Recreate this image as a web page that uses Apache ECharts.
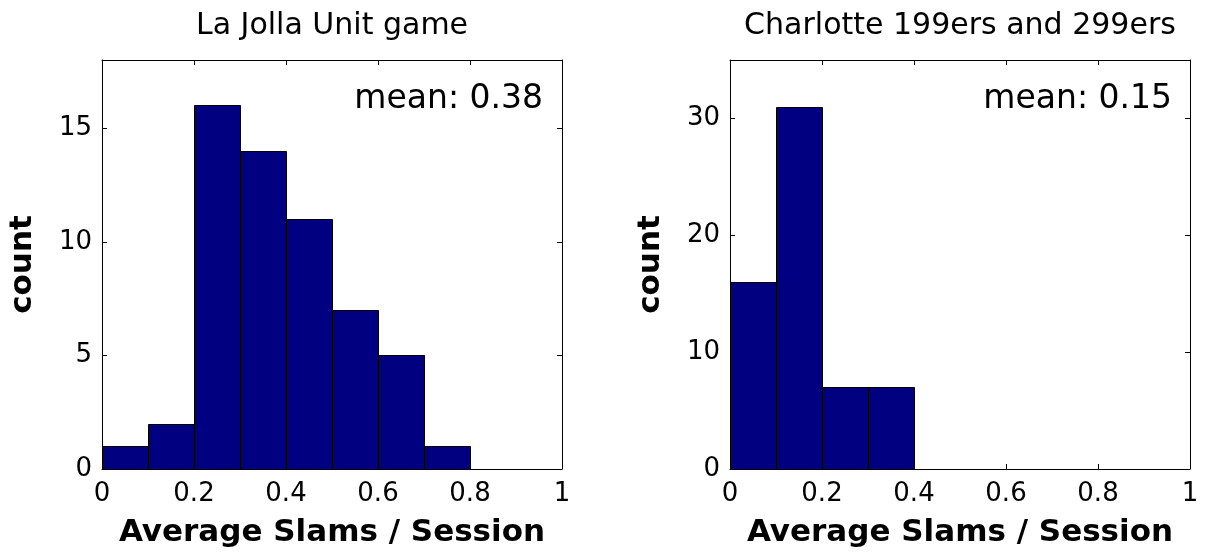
<!DOCTYPE html>
<html>
<head>
<meta charset="utf-8">
<script src="https://cdn.jsdelivr.net/npm/echarts@6/dist/echarts.min.js"></script>
<style>
html,body{margin:0;padding:0;background:#fff;}
#chart{width:1208px;height:554px;}
</style>
</head>
<body>
<div id="chart"></div>
<script>
const binEdges = [0, 0.1, 0.2, 0.3, 0.4, 0.5, 0.6, 0.7, 0.8, 0.9, 1.0];
const laJollaCounts = [1, 2, 16, 14, 11, 7, 5, 1, 0, 0];
const charlotteCounts = [16, 31, 7, 7, 0, 0, 0, 0, 0, 0];
const titles = ['La Jolla Unit game', 'Charlotte 199ers and 299ers'];
const meanLabels = ['mean: 0.38', 'mean: 0.15'];
const xTitle = 'Average Slams / Session';
const yTitle = 'count';
const yMaxes = [18, 35];
const yIntervals = [5, 10];

const FONT = 'DejaVu Sans';
const BAR = '#000080';

function toData(counts) {
  return counts.map((c, i) => [binEdges[i], binEdges[i + 1], c]);
}

function renderItem(params, api) {
  const x0 = api.value(0), x1 = api.value(1), y = api.value(2);
  if (!y) return null;
  const p0 = api.coord([x0, y]);
  const p1 = api.coord([x1, 0]);
  const l = Math.round(p0[0]) + 0.5, r = Math.round(p1[0]) + 0.5;
  const t = Math.round(p0[1]) + 0.5, b = Math.round(p1[1]) + 0.5;
  return {
    type: 'rect',
    shape: { x: l, y: t, width: r - l, height: b - t },
    style: { fill: BAR, stroke: '#000', lineWidth: 1 }
  };
}

const grids = [
  { left: 102, top: 60, width: 460, height: 409 },
  { left: 730, top: 60, width: 460, height: 409 }
];

const lineStyle = { color: '#000', width: 1 };
const xAxes = [], yAxes = [], series = [];
[0, 1].forEach(g => {
  xAxes.push({
    gridIndex: g, type: 'value', min: 0, max: 1, interval: 0.2, position: 'bottom',
    axisLine: { show: true, onZero: false, lineStyle },
    axisTick: { show: true, inside: true, length: 5, lineStyle },
    axisLabel: { show: true, color: '#000', fontFamily: FONT, fontSize: 26, margin: 12 },
    splitLine: { show: false },
    name: xTitle, nameLocation: 'middle', nameGap: 48,
    nameTextStyle: { color: '#000', fontFamily: FONT, fontSize: 31, fontWeight: 'bold' }
  });
  xAxes.push({
    gridIndex: g, type: 'value', min: 0, max: 1, interval: 0.2, position: 'top',
    axisLine: { show: true, onZero: false, lineStyle },
    axisTick: { show: true, inside: true, length: 5, lineStyle },
    axisLabel: { show: false }, splitLine: { show: false }
  });
  const iv = yIntervals[g];
  yAxes.push({
    gridIndex: g, type: 'value', min: 0, max: yMaxes[g], interval: iv, position: 'left',
    axisLine: { show: true, onZero: false, lineStyle },
    axisTick: { show: true, inside: true, length: 5, lineStyle },
    axisLabel: {
      show: true, color: '#000', fontFamily: FONT, fontSize: 26, margin: 10,
      showMaxLabel: false,
      formatter: v => (Math.abs(v / iv - Math.round(v / iv)) < 1e-9 ? String(v) : '')
    },
    splitLine: { show: false },
    name: yTitle, nameLocation: 'middle', nameGap: 64, nameRotate: 90,
    nameTextStyle: { color: '#000', fontFamily: FONT, fontSize: 31, fontWeight: 'bold' }
  });
  yAxes.push({
    gridIndex: g, type: 'value', min: 0, max: yMaxes[g], interval: iv, position: 'right',
    axisLine: { show: true, onZero: false, lineStyle },
    axisTick: { show: true, inside: true, length: 5, lineStyle },
    axisLabel: { show: false }, splitLine: { show: false }
  });
  series.push({
    type: 'custom',
    xAxisIndex: g * 2, yAxisIndex: g * 2,
    renderItem,
    encode: { x: [0, 1], y: 2 },
    data: toData(g === 0 ? laJollaCounts : charlotteCounts),
    clip: true,
    silent: true
  });
});

const chart = echarts.init(document.getElementById('chart'), null, { renderer: 'canvas' });
chart.setOption({
  backgroundColor: '#fff',
  animation: false,
  title: [
    { text: titles[0], left: 332, top: 11, textAlign: 'center', padding: 0,
      textStyle: { color: '#000', fontFamily: FONT, fontSize: 30, fontWeight: 'normal' } },
    { text: titles[1], left: 960, top: 11, textAlign: 'center', padding: 0,
      textStyle: { color: '#000', fontFamily: FONT, fontSize: 30, fontWeight: 'normal' } },
    { text: meanLabels[0], right: 1208 - 543, top: 83, padding: 0,
      textStyle: { color: '#000', fontFamily: FONT, fontSize: 33, fontWeight: 'normal' } },
    { text: meanLabels[1], right: 1208 - 1172, top: 83, padding: 0,
      textStyle: { color: '#000', fontFamily: FONT, fontSize: 33, fontWeight: 'normal' } }
  ],
  grid: grids,
  xAxis: xAxes,
  yAxis: yAxes,
  series
});
</script>
</body>
</html>
